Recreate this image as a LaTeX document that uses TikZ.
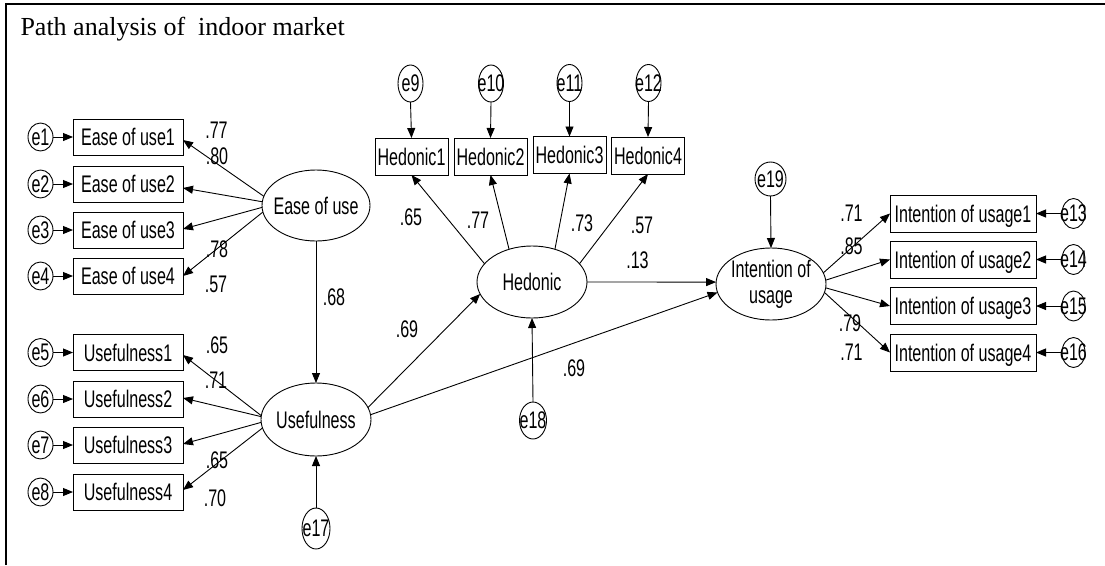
\documentclass[tikz,border=0pt]{standalone}
\usepackage{fontspec}
\newfontfamily\amos{Liberation Sans}[FakeStretch=0.67]
\newfontfamily\titlefont{Liberation Serif}
\usetikzlibrary{arrows.meta,shapes.geometric}

\begin{document}
\begin{tikzpicture}[x=1pt,y=-1pt,
  every node/.style={font=\amos\fontsize{24}{26}\selectfont, inner sep=0pt, outer sep=0pt},
  obs/.style={draw, line width=0.9pt, rectangle, minimum height=36pt,
              text height=17.2pt, text depth=0pt, minimum width=#1},
  lat/.style={draw, line width=0.9pt, ellipse, minimum width=110pt, minimum height=72pt,
              label={[align=center]center:#1}},
  err/.style={draw, line width=0.9pt, ellipse, minimum width=25pt, minimum height=28pt,
              label={center:#1}},
  coef/.style={},
  link/.style={line width=0.9pt, -{Triangle[length=10pt,width=8pt]}},
]
\useasboundingbox (0,0) rectangle (1105,565);
\fill[white] (0,0) rectangle (1105,565);

% frame and title
\draw[line width=1.3pt] (6,565) -- (6,4) -- (1105,4);
\node[font=\titlefont\fontsize{26}{30}\selectfont, anchor=base west] (title) at (20.5,35)
  {Path analysis of~ indoor market};

% latent variables
\node[lat={Ease of use}, minimum width=108pt, minimum height=71pt] (eou) at (316,205.5) {};
\node[lat={Usefulness}, minimum height=73pt] (use) at (316,419.5) {};
\node[lat={Hedonic}] (hed) at (532,282) {};
\node[lat={Intention of\\usage}] (int) at (771,284) {};

% Ease of use indicators
\node[obs=110pt] (eu1) at (128,137) {Ease of use1};
\node[obs=110pt] (eu2) at (128,184) {Ease of use2};
\node[obs=110pt] (eu3) at (128,230) {Ease of use3};
\node[obs=110pt] (eu4) at (128,276) {Ease of use4};
\node[err=e1] (e1) at (40.5,137) {};
\node[err=e2] (e2) at (40.5,184) {};
\node[err=e3] (e3) at (40.5,230) {};
\node[err=e4] (e4) at (40.5,276) {};

% Usefulness indicators
\node[obs=110pt] (us1) at (128,352.5) {Usefulness1};
\node[obs=110pt] (us2) at (128,399) {Usefulness2};
\node[obs=110pt] (us3) at (128,445) {Usefulness3};
\node[obs=110pt] (us4) at (128,492) {Usefulness4};
\node[err=e5] (e5) at (40.5,352.5) {};
\node[err=e6] (e6) at (40.5,399) {};
\node[err=e7] (e7) at (40.5,445) {};
\node[err=e8] (e8) at (40.5,492) {};

% Hedonic indicators
\node[obs=73pt, minimum height=37pt] (h1) at (411.5,156.5) {Hedonic1};
\node[obs=73pt, minimum height=37pt] (h2) at (490.5,156.5) {Hedonic2};
\node[obs=73pt, minimum height=37pt] (h3) at (569.5,155) {Hedonic3};
\node[obs=73pt, minimum height=37pt] (h4) at (648,155.5) {Hedonic4};
\node[err=e9,  minimum height=37pt] (e9)  at (410.5,83.5) {};
\node[err=e10, minimum height=37pt] (e10) at (491,83.5) {};
\node[err=e11, minimum height=37pt] (e11) at (569.5,83) {};
\node[err=e12, minimum height=37pt] (e12) at (648.5,83) {};

% Intention of usage indicators
\node[obs=146pt, minimum height=37pt] (iu1) at (963,213.5) {Intention of usage1};
\node[obs=146pt, minimum height=37pt] (iu2) at (963,259.5) {Intention of usage2};
\node[obs=146pt, minimum height=37pt] (iu3) at (963,306) {Intention of usage3};
\node[obs=146pt, minimum height=37pt] (iu4) at (963,352.5) {Intention of usage4};
\node[err=e13, minimum width=23pt, minimum height=30pt] (e13) at (1073.5,213.5) {};
\node[err=e14, minimum width=23pt, minimum height=30pt] (e14) at (1073.5,259.5) {};
\node[err=e15, minimum width=23pt, minimum height=30pt] (e15) at (1073.5,306) {};
\node[err=e16, minimum width=23pt, minimum height=30pt] (e16) at (1073.5,352.5) {};

% structural disturbances
\node[err=e17, minimum width=28pt, minimum height=41pt] (e17) at (316,528.5) {};
\node[err=e18, minimum width=27pt, minimum height=37pt] (e18) at (533,420.5) {};
\node[err=e19, minimum width=31pt, minimum height=34pt] (e19) at (770.5,179) {};

% error terms into indicators
\foreach \e/\b in {e1/eu1,e2/eu2,e3/eu3,e4/eu4,e5/us1,e6/us2,e7/us3,e8/us4}
  \draw[link] (\e.east) -- (\b.west);
\foreach \e/\b in {e9/h1,e10/h2,e11/h3,e12/h4}
  \draw[link] (\e.south) -- (\b.north);
\foreach \e/\b in {e13/iu1,e14/iu2,e15/iu3,e16/iu4}
  \draw[link] (\e.west) -- (\b.east);

% loadings
\draw[link] (eou.170.5) -- ([yshift=-3pt]eu1.east);
\draw[link] (eou.176)   -- ([yshift=-4pt]eu2.east);
\draw[link] (eou.182)   -- ([yshift=1pt]eu3.east);
\draw[link] (eou.187)   -- (eu4.east);
\draw[link] (use.176)   -- ([yshift=-2.5pt]us1.east);
\draw[link] (use.177.5) -- ([yshift=1pt]us2.east);
\draw[link] (use.183.5) -- ([yshift=1pt]us3.east);
\draw[link] (use.189)   -- ([yshift=2pt]us4.east);
\draw[link] (hed.159) -- (h1.south);
\draw[link] (hed.125) -- (h2.south);
\draw[link] (hed.55)  -- (h3.south);
\draw[link] (hed.21)  -- (h4.south);
\draw[link] (int.12.5) -- (iu1.west);
\draw[link] (int.4)    -- (iu2.west);
\draw[link] (int.-4)   -- (iu3.west);
\draw[link] (int.-9.5) -- (iu4.west);

% structural paths
\draw[link] (eou.south) -- (use.north);
\draw[link] (use.13.5) -- (hed.193.5);
\draw[link] (use.5) -- (int.189);
\draw[link] (hed.0) -- (int.178);
\draw[link] (e17.north) -- (use.south);
\draw[link] (e18.north) -- (hed.south);
\draw[link] (e19.south) -- (int.north);

% coefficients
\node[coef] (c1)  at (216.5,130) {.77};
\node[coef] (c2)  at (217,156) {.80};
\node[coef] (c3)  at (217,249) {.78};
\node[coef] (c4)  at (216,284) {.57};
\node[coef] (c5)  at (217,345) {.65};
\node[coef] (c6)  at (216,380) {.71};
\node[coef] (c7)  at (217,460) {.65};
\node[coef] (c8)  at (215,498) {.70};
\node[coef] (c9)  at (334,297) {.68};
\node[coef] (c10) at (411,217) {.65};
\node[coef] (c11) at (478,220) {.77};
\node[coef] (c12) at (582,223) {.73};
\node[coef] (c13) at (642,225) {.57};
\node[coef] (c14) at (637.5,260.5) {.13};
\node[coef] (c15) at (407,329) {.69};
\node[coef] (c16) at (574,368.5) {.69};
\node[coef] (c17) at (851.5,213) {.71};
\node[coef] (c18) at (851.5,246) {.85};
\node[coef] (c19) at (850,323) {.79};
\node[coef] (c20) at (851.5,352.5) {.71};
\end{tikzpicture}
\end{document}
